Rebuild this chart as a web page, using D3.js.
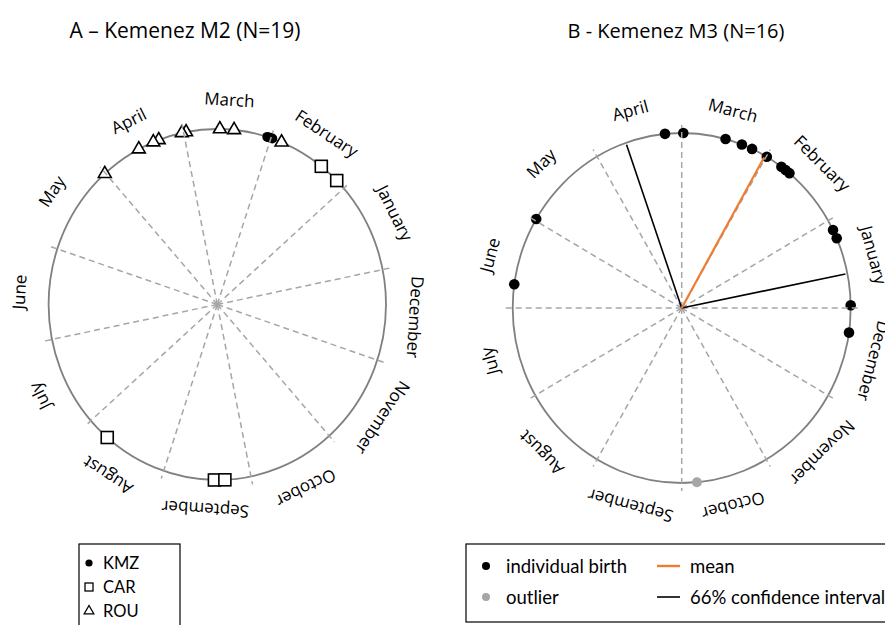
<!DOCTYPE html>
<html><head><meta charset="utf-8">
<script src="https://cdn.jsdelivr.net/npm/d3@7"></script>
<style>html,body{margin:0;padding:0;background:#fff;overflow:hidden}svg{display:block}</style>
</head><body>
<script>
// ---------- data ----------
const monthNames = ["January","February","March","April","May","June","July","August","September","October","November","December"];
// Panel A (M2) birth day-of-year per group
const kmzDays = [60.3, 61.1, 62.1];
const carDays = [33.9, 41.0, 220.8, 261.1, 264.7];
const rouDays = [56.9, 73.8, 78.7, 90.4, 91.9, 100.2, 102.2, 107.7, 122.0];
// Panel B (M3)
const m3Days = [97.0, 90.7, 76.0, 70.1, 66.3, 60.6, 54.6, 51.1, 52.8, 26.8, 23.8, 0.9, 356.8, 151.5, 174.6];
const m3Outlier = [279];
const m3Mean = [61.3];
const m3CI = [11.5, 110.8];
const titles = ["A \u2013 Kemenez M2 (N=19)", "B - Kemenez M3 (N=16)"];
const legendA = ["KMZ", "CAR", "ROU"];
const legendB = ["individual birth", "outlier", "mean", "66% confidence interval"];

// ---------- setup ----------
const W = 885, H = 625;
const svg = d3.select("body").append("svg").attr("width", W).attr("height", H);
const FONT = "'Open Sans', sans-serif";
const ORANGE = "#ED7D31", GRAY = "#A6A6A6";

function panel(cfg) {
  const g = svg.append("g");
  const ang = d3.scaleLinear().domain([0, 365]).range([cfg.offset, cfg.offset + 360]);
  const rad = a => a * Math.PI / 180;
  const px = (deg, k) => cfg.cx + (cfg.rx + k) * Math.cos(rad(deg));
  const py = (deg, k) => cfg.cy - (cfg.ry + k) * Math.sin(rad(deg));
  g.append("ellipse").attr("cx", cfg.cx).attr("cy", cfg.cy).attr("rx", cfg.rx).attr("ry", cfg.ry)
    .attr("fill", "none").attr("stroke", "#808080").attr("stroke-width", 1.8);
  g.selectAll("text.month").data(monthNames).join("text")
    .attr("class", "month")
    .attr("transform", (m, i) => {
      const a = cfg.offset + (i + 0.5) * 30;
      return `translate(${px(a, 30)},${py(a, 30)}) rotate(${90 - a})`;
    })
    .attr("text-anchor", "middle").attr("dominant-baseline", "central")
    .attr("font-family", FONT).attr("font-size", 17).attr("fill", "#000")
    .text(d => d);
  return {g, ang, px, py};
}

// ---------- Panel A ----------
const A = {cx: 217.3, cy: 304.5, rx: 168.7, ry: 175.5, offset: 11.5};
const pa = panel(A);
pa.g.selectAll("circle.kmz").data(kmzDays).join("circle")
  .attr("cx", d => pa.px(pa.ang(d), 0)).attr("cy", d => pa.py(pa.ang(d), 0))
  .attr("r", 5).attr("fill", "#000");
pa.g.selectAll("rect.car").data(carDays).join("rect")
  .attr("x", d => pa.px(pa.ang(d), 0) - 6).attr("y", d => pa.py(pa.ang(d), 0) - 6)
  .attr("width", 12).attr("height", 12).attr("fill", "#fff").attr("stroke", "#000").attr("stroke-width", 1.6);
const tri = d3.symbol().type(d3.symbolTriangle).size(72);
pa.g.selectAll("path.rou").data(rouDays).join("path")
  .attr("d", tri)
  .attr("transform", d => `translate(${pa.px(pa.ang(d), 0)},${pa.py(pa.ang(d), 0)})`)
  .attr("fill", "#fff").attr("stroke", "#000").attr("stroke-width", 1.6);
pa.g.selectAll("line.spoke").data(d3.range(12)).join("line")
  .attr("x1", A.cx).attr("y1", A.cy)
  .attr("x2", i => pa.px(pa.ang(i * 365 / 12), 8)).attr("y2", i => pa.py(pa.ang(i * 365 / 12), 8))
  .attr("stroke", GRAY).attr("stroke-width", 1.5).attr("stroke-dasharray", "6,4");

// ---------- Panel B ----------
const B = {cx: 681.7, cy: 308, rx: 169, ry: 175, offset: 0};
const pb = panel(B);
pb.g.selectAll("circle.birth").data(m3Days).join("circle")
  .attr("cx", d => pb.px(pb.ang(d), 0)).attr("cy", d => pb.py(pb.ang(d), 0))
  .attr("r", 5.3).attr("fill", "#000");
pb.g.selectAll("circle.out").data(m3Outlier).join("circle")
  .attr("cx", d => pb.px(pb.ang(d), 0)).attr("cy", d => pb.py(pb.ang(d), 0))
  .attr("r", 5).attr("fill", GRAY);
pb.g.selectAll("line.spoke").data(d3.range(12)).join("line")
  .attr("x1", B.cx).attr("y1", B.cy)
  .attr("x2", i => pb.px(pb.ang(i * 365 / 12), 8)).attr("y2", i => pb.py(pb.ang(i * 365 / 12), 8))
  .attr("stroke", GRAY).attr("stroke-width", 1.5).attr("stroke-dasharray", "6,4");
pb.g.selectAll("line.ci").data(m3CI).join("line")
  .attr("x1", B.cx).attr("y1", B.cy)
  .attr("x2", d => pb.px(pb.ang(d), -2)).attr("y2", d => pb.py(pb.ang(d), -2))
  .attr("stroke", "#000").attr("stroke-width", 1.6);
pb.g.selectAll("line.mean").data(m3Mean).join("line")
  .attr("x1", B.cx).attr("y1", B.cy)
  .attr("x2", d => pb.px(pb.ang(d), -2)).attr("y2", d => pb.py(pb.ang(d), -2))
  .attr("stroke", ORANGE).attr("stroke-width", 2.2);

// ---------- titles ----------
svg.selectAll("text.title").data(titles).join("text")
  .attr("x", (d, i) => i === 0 ? 185 : 676).attr("y", 30)
  .attr("text-anchor", "middle").attr("dominant-baseline", "central")
  .attr("font-family", FONT).attr("font-size", (d, i) => i === 0 ? 21 : 20).attr("fill", "#000")
  .text(d => d);

// ---------- legend A ----------
const LF = "Lato, 'Open Sans', sans-serif";
const lgA = svg.append("g");
lgA.append("rect").attr("x", 79).attr("y", 544).attr("width", 101).attr("height", 100)
  .attr("fill", "#fff").attr("stroke", "#000").attr("stroke-width", 1.2);
const rowsA = [563, 587, 611];
lgA.append("circle").attr("cx", 89).attr("cy", rowsA[0]).attr("r", 3.6).attr("fill", "#000");
lgA.append("rect").attr("x", 85).attr("y", rowsA[1] - 4).attr("width", 8).attr("height", 8)
  .attr("fill", "#fff").attr("stroke", "#000").attr("stroke-width", 1.3);
lgA.append("path").attr("d", d3.symbol().type(d3.symbolTriangle).size(40))
  .attr("transform", `translate(89,${rowsA[2]})`).attr("fill", "#fff").attr("stroke", "#000").attr("stroke-width", 1.3);
lgA.selectAll("text").data(legendA).join("text")
  .attr("x", 103).attr("y", (d, i) => rowsA[i]).attr("dominant-baseline", "central")
  .attr("font-family", LF).attr("font-size", 16.5).attr("fill", "#000").text(d => d);

// ---------- legend B ----------
const lgB = svg.append("g");
lgB.append("rect").attr("x", 466).attr("y", 544).attr("width", 440).attr("height", 78)
  .attr("fill", "#fff").attr("stroke", "#000").attr("stroke-width", 1.2);
const rowsB = [566, 597];
lgB.append("circle").attr("cx", 486).attr("cy", rowsB[0]).attr("r", 4).attr("fill", "#000");
lgB.append("circle").attr("cx", 486).attr("cy", rowsB[1]).attr("r", 4).attr("fill", GRAY);
lgB.append("line").attr("x1", 657).attr("x2", 680).attr("y1", rowsB[0]).attr("y2", rowsB[0])
  .attr("stroke", ORANGE).attr("stroke-width", 2.4);
lgB.append("line").attr("x1", 657).attr("x2", 680).attr("y1", rowsB[1]).attr("y2", rowsB[1])
  .attr("stroke", "#000").attr("stroke-width", 1.6);
lgB.selectAll("text").data(legendB).join("text")
  .attr("x", (d, i) => i < 2 ? 506 : 690).attr("y", (d, i) => rowsB[i % 2])
  .attr("dominant-baseline", "central")
  .attr("font-family", LF).attr("font-size", 18.5).attr("fill", "#000").text(d => d);
</script>
</body></html>
